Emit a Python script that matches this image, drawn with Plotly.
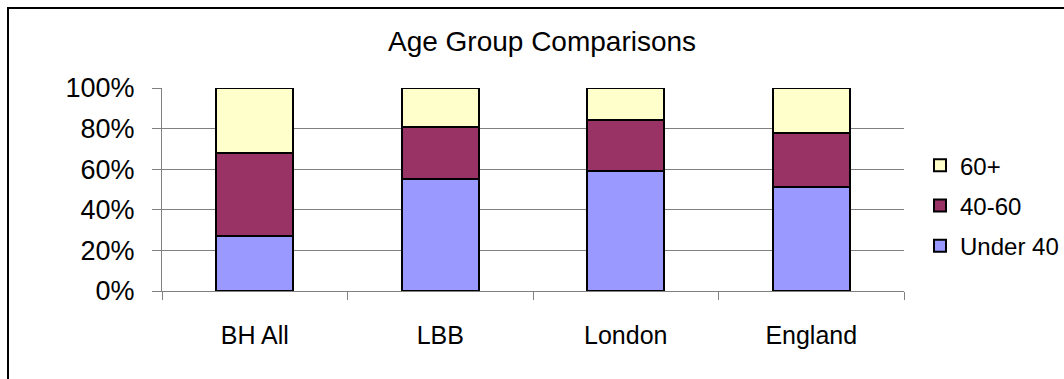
import plotly.graph_objects as go

# Age-group share by area (percent of total)
areas = ["BH All", "LBB", "London", "England"]
under_40 = [27, 55, 59, 51]
age_40_60 = [41, 26, 25, 27]
over_60 = [32, 19, 16, 22]
pct_ticks = [0, 20, 40, 60, 80, 100]
pct_labels = ["0%", "20%", "40%", "60%", "80%", "100%"]

W, H = 1064, 379
L, R, T, B = 162, 160, 88, 88
pw, ph = W - L - R, H - T - B

# (name, values, colour, legend rank) - legend lists the top segment first
series = [
    ("Under 40", under_40, "#9999FF", 3),
    ("40-60", age_40_60, "#993366", 2),
    ("60+", over_60, "#FFFFCC", 1),
]

fig = go.Figure()
for i, (name, vals, color, rank) in enumerate(series):
    fig.add_trace(go.Bar(
        x=areas, y=vals, name=name, legendgroup=f"g{i}", legendrank=rank,
        marker=dict(color=color, line=dict(color="black", width=2)),
    ))

FONT = "Liberation Sans, Arial, sans-serif"

fig.update_layout(
    width=W, height=H,
    margin=dict(l=L, r=R, t=T, b=B, autoexpand=False),
    paper_bgcolor="white", plot_bgcolor="white",
    barmode="stack", bargap=0.587,
    font=dict(family=FONT, color="black"),
    title=dict(text="Age Group Comparisons", x=(540 - L) / pw, xanchor="center",
               y=1 - 41 / H, yanchor="middle", yref="container",
               font=dict(size=28, family=FONT, color="black")),
    legend=dict(x=(920 - L) / pw, xanchor="left", y=0.42, yanchor="middle",
                traceorder="grouped", tracegroupgap=6,
                font=dict(size=24, family=FONT), itemwidth=30,
                bgcolor="rgba(0,0,0,0)"),
    showlegend=True,
)

fig.update_xaxes(
    showline=True, linecolor="#808080", linewidth=1,
    ticks="outside", tickson="boundaries", ticklen=8, tickcolor="#808080",
    tickfont=dict(size=25, family=FONT, color="black"),
    ticklabelstandoff=22, showgrid=False,
)
fig.update_yaxes(
    range=[0, 100], tickmode="array", tickvals=pct_ticks, ticktext=pct_labels,
    showline=True, linecolor="#808080", linewidth=1,
    ticks="outside", ticklen=9, tickcolor="#808080",
    showgrid=True, gridcolor="#808080", gridwidth=1, zeroline=False,
    tickfont=dict(size=27, family=FONT, color="black"),
    ticklabelstandoff=12,
)

# Chart frame around the whole figure
fig.add_shape(type="rect", xref="paper", yref="paper",
              x0=(8 - L) / pw, x1=(W + 10 - L) / pw,
              y0=(H - B - (H + 10)) / ph, y1=1 + (T - 8) / ph,
              line=dict(color="black", width=2), layer="below")

fig.write_html("out.html")
